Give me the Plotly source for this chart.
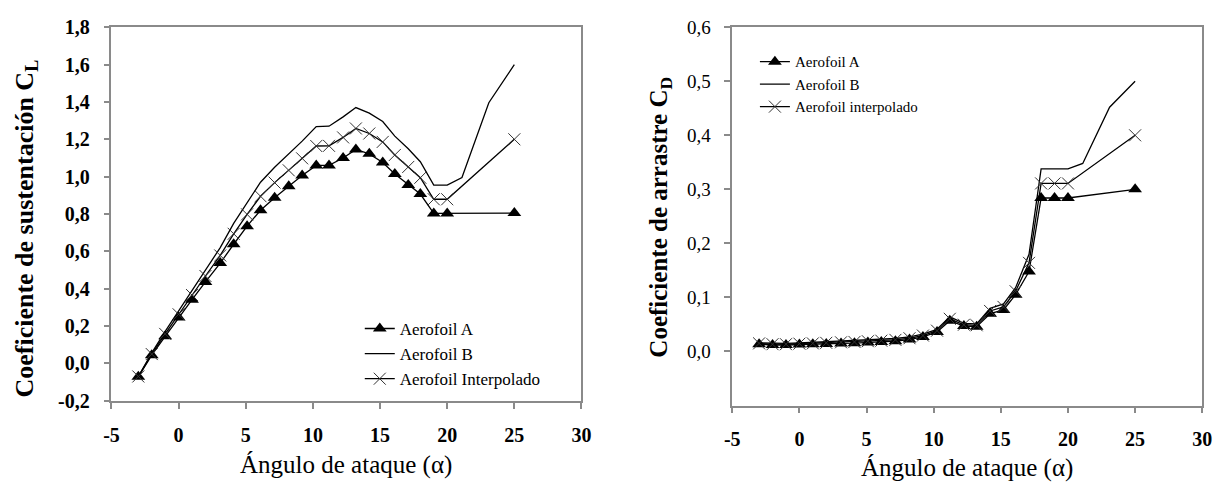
import plotly.graph_objects as go

# ---------------- data ----------------
alpha = [-3, -2, -1, 0, 1, 2, 3.1, 4.1, 5.1, 6.1, 7.15, 8.2, 9.2, 10.25, 11.2, 12.25,
         13.2, 14.2, 15.2, 16.1, 17.1, 18.0, 19.0, 20.0, 25.0]
alpha_b = [-3, -2, -1, 0, 1, 2, 3.1, 4.1, 5.1, 6.1, 7.15, 8.2, 9.2, 10.25, 11.2, 12.25,
           13.2, 14.2, 15.2, 16.1, 17.1, 18.0, 19.0, 20.0, 21.1, 23.1, 25.0]

cl_a = [-0.072, 0.044, 0.145, 0.246, 0.341, 0.436, 0.537, 0.638, 0.735, 0.820, 0.887,
        0.948, 1.006, 1.060, 1.060, 1.100, 1.146, 1.122, 1.076, 1.014, 0.955, 0.907,
        0.803, 0.803, 0.805]
cl_b = [-0.070, 0.056, 0.171, 0.280, 0.391, 0.500, 0.620, 0.750, 0.860, 0.970, 1.050,
        1.120, 1.190, 1.268, 1.270, 1.320, 1.370, 1.340, 1.295, 1.217, 1.149, 1.080,
        0.955, 0.955, 0.995, 1.396, 1.600]
cl_i = [-0.070, 0.050, 0.158, 0.263, 0.366, 0.468, 0.578, 0.694, 0.798, 0.895, 0.968,
        1.034, 1.098, 1.164, 1.165, 1.210, 1.258, 1.231, 1.186, 1.116, 1.052, 0.994,
        0.879, 0.879, 1.200]

cd_a = [0.0135, 0.012, 0.012, 0.013, 0.0135, 0.014, 0.015, 0.0153, 0.0165, 0.0176, 0.019,
        0.022, 0.027, 0.036, 0.057, 0.047, 0.046, 0.070, 0.077, 0.105, 0.148, 0.284,
        0.284, 0.284, 0.300]
cd_b = [0.016, 0.015, 0.015, 0.016, 0.017, 0.018, 0.019, 0.020, 0.021, 0.022, 0.024,
        0.027, 0.032, 0.041, 0.064, 0.052, 0.051, 0.080, 0.088, 0.118, 0.180, 0.338,
        0.338, 0.338, 0.348, 0.452, 0.500]
cd_i = [0.015, 0.0135, 0.0135, 0.0145, 0.015, 0.016, 0.017, 0.0177, 0.019, 0.020, 0.0215,
        0.0245, 0.0295, 0.0385, 0.0605, 0.0495, 0.0485, 0.075, 0.0825, 0.1115, 0.164,
        0.311, 0.311, 0.311, 0.400]

x_ticks = [-5, 0, 5, 10, 15, 20, 25, 30]
cl_ticks = [-0.2, 0.0, 0.2, 0.4, 0.6, 0.8, 1.0, 1.2, 1.4, 1.6, 1.8]
cd_ticks = [0.0, 0.1, 0.2, 0.3, 0.4, 0.5, 0.6]

names_left = ["Aerofoil A", "Aerofoil B", "Aerofoil Interpolado"]
names_right = ["Aerofoil A", "Aerofoil B", "Aerofoil interpolado"]

# ---------------- figure ----------------
W, H = 1230, 492
FONT = "Liberation Serif"
AXC = "#8a8a8a"

fig = go.Figure()

def add_set(xa, ya, legend, names, xs, xsb, ya_, yb_, yi_):
    fig.add_trace(go.Scatter(x=xs, y=ya_, name=names[0], mode="lines+markers",
                             line=dict(color="black", width=1.3),
                             marker=dict(symbol="triangle-up", size=12, color="black"),
                             xaxis=xa, yaxis=ya, legend=legend))
    fig.add_trace(go.Scatter(x=xsb, y=yb_, name=names[1], mode="lines",
                             line=dict(color="black", width=1.3),
                             xaxis=xa, yaxis=ya, legend=legend))
    fig.add_trace(go.Scatter(x=xs, y=yi_, name=names[2], mode="lines+markers",
                             line=dict(color="black", width=1.3),
                             marker=dict(symbol="x-thin", size=12,
                                         line=dict(color="#333333", width=1)),
                             xaxis=xa, yaxis=ya, legend=legend))

add_set("x", "y", "legend", names_left, alpha, alpha_b, cl_a, cl_b, cl_i)
add_set("x2", "y2", "legend2", names_right, alpha, alpha_b, cd_a, cd_b, cd_i)

def fmt(v, nd=1):
    return f"{v:.{nd}f}".replace(".", ",")

axis_common = dict(showline=True, linecolor=AXC, linewidth=1.5, mirror=True,
                   ticks="outside", tickcolor=AXC, ticklen=6, tickwidth=1.5,
                   showgrid=False, zeroline=False)

fig.update_layout(
    width=W, height=H,
    margin=dict(l=0, r=0, t=0, b=0),
    paper_bgcolor="white", plot_bgcolor="white",
    font=dict(family=FONT, color="black", size=16),
    xaxis=dict(domain=[105 / W, 582 / W], range=[-5, 30], tickvals=x_ticks,
               ticktext=[str(v) for v in x_ticks], anchor="y", ticklabelstandoff=9,
               tickfont=dict(family=FONT, size=20, weight="bold"), **axis_common),
    yaxis=dict(domain=[1 - 408 / H, 1 - 17 / H], range=[-0.2, 1.8], tickvals=cl_ticks,
               ticktext=[fmt(v) for v in cl_ticks], anchor="x", ticklabelstandoff=10,
               tickfont=dict(family=FONT, size=20, weight="bold"), **axis_common),
    xaxis2=dict(domain=[735 / W, 1212 / W], range=[-5, 30], tickvals=x_ticks,
                ticktext=[str(v) for v in x_ticks], anchor="y2", ticklabelstandoff=9,
                tickfont=dict(family=FONT, size=20, weight="bold"), **axis_common),
    yaxis2=dict(domain=[1 - 413 / H, 1 - 17 / H], range=[-0.1, 0.6], tickvals=cd_ticks,
                ticktext=[fmt(v) for v in cd_ticks], anchor="x2", ticklabelstandoff=10,
                tickfont=dict(family=FONT, size=19), **axis_common),
    legend=dict(x=357 / W, y=1 - 314 / H, xanchor="left", yanchor="top",
                bgcolor="rgba(0,0,0,0)", font=dict(size=17, family=FONT),
                tracegroupgap=0, itemwidth=30),
    legend2=dict(x=758 / W, y=1 - 36 / H, xanchor="left", yanchor="top",
                 bgcolor="rgba(0,0,0,0)", font=dict(size=15, family=FONT),
                 tracegroupgap=0, itemwidth=30),
    showlegend=True,
)

annots = [
    dict(text="<b>Coeficiente de sustentación C<sub>L</sub></b>", x=18 / W, y=1 - 228 / H,
         textangle=-90, font=dict(size=26, family=FONT)),
    dict(text="<b>Coeficiente de arrastre C<sub>D</sub></b>", x=662 / W, y=1 - 216 / H,
         textangle=-90, font=dict(size=25, family=FONT)),
    dict(text="Ángulo de ataque (α)", x=343 / W, y=1 - 475 / H, font=dict(size=25, family=FONT)),
    dict(text="Ángulo de ataque (α)", x=973 / W, y=1 - 478 / H, font=dict(size=25, family=FONT)),
]
for a in annots:
    fig.add_annotation(xref="paper", yref="paper", showarrow=False,
                       xanchor="center", yanchor="middle", **a)

fig.write_html("out.html")
